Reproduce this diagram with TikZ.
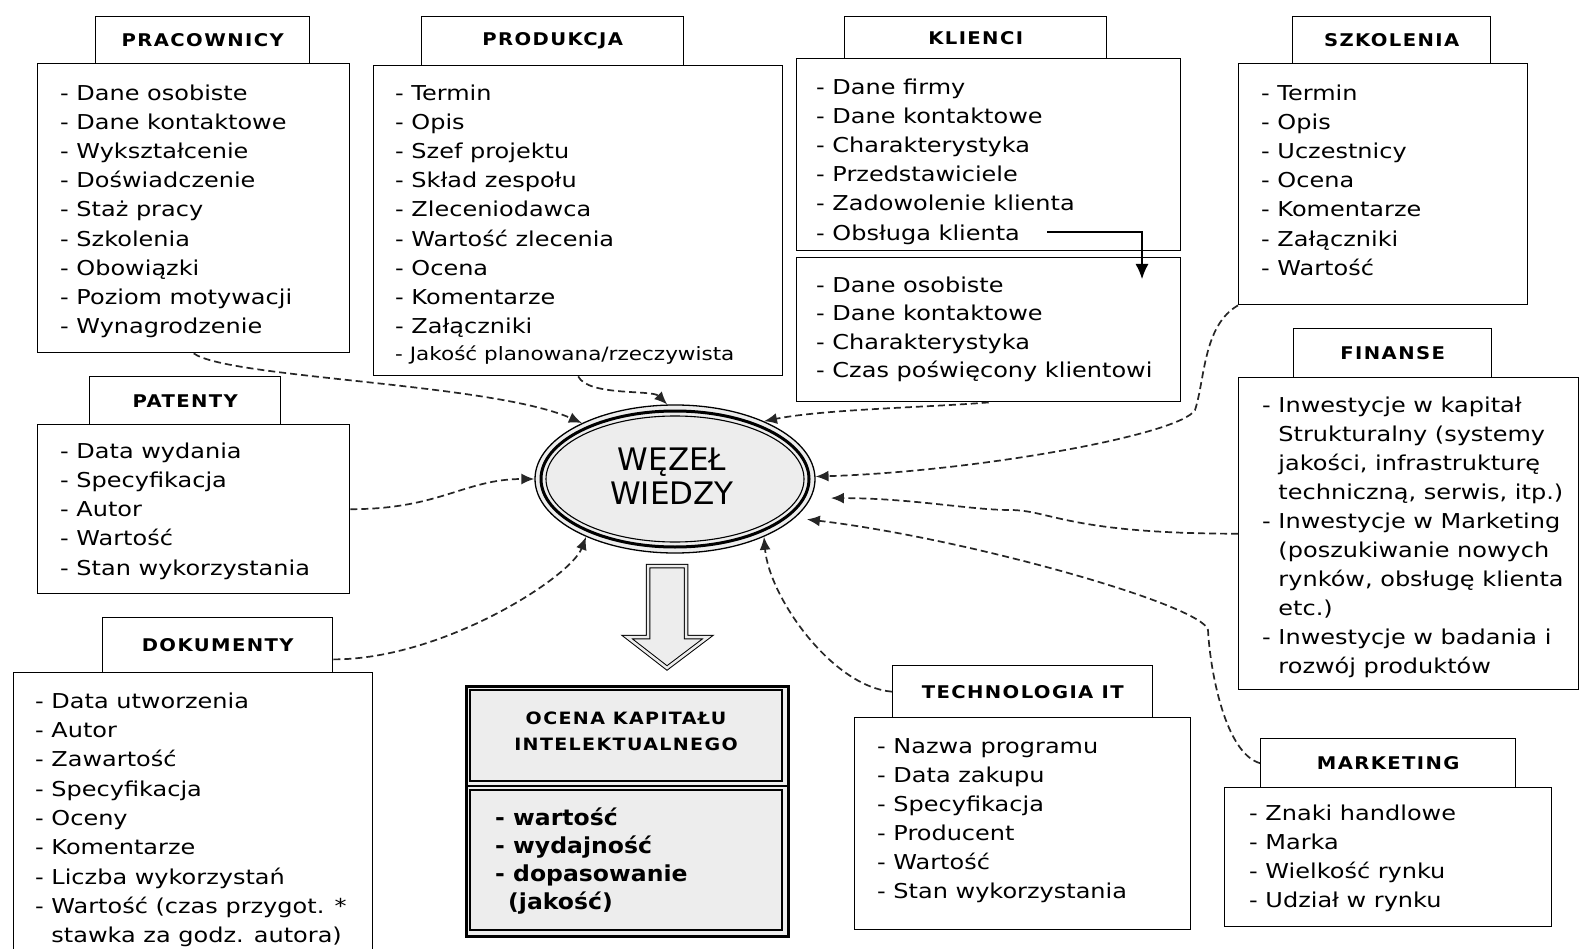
\documentclass[tikz,border=0pt]{standalone}
\usepackage{fontspec}
\usetikzlibrary{shapes.geometric,arrows.meta,calc}
\newfontfamily\bodyf{DejaVu Sans}[FakeStretch=1.17]
\newfontfamily\ttlf{DejaVu Sans Bold}[FakeStretch=1.12,LetterSpace=8]
\newfontfamily\ocf{DejaVu Sans Bold}[FakeStretch=1.07]
\newfontfamily\wezf{DejaVu Sans}
\newcommand{\lnstrut}{\rule{0pt}{22pt}}
\newcommand{\tstrut}{\rule{0pt}{16pt}}
\newcommand{\ind}{\phantom{-\ }}
\begin{document}
\begin{tikzpicture}[x=1pt,y=-1pt,
  box/.style={draw=black, line width=1.4pt, fill=white, inner sep=0pt, anchor=north west},
  ttl/.style={box, font=\ttlf\fontsize{17.5}{20}\selectfont},
  lst/.style={anchor=north west, inner sep=0pt, align=left, font=\bodyf\fontsize{20.5}{29.2}\selectfont},
  conn/.style={draw=black!85, line width=1.7pt, dash pattern=on 7pt off 4pt, -{Latex[length=13pt,width=11pt]}},
]
\fill[white] (0,0) rectangle (1579,949);
\useasboundingbox (0,0) rectangle (1579,949);

% PRACOWNICY
\node[box, minimum width=312, minimum height=289] (pracB) at (37,63) {};
\node[ttl, minimum width=214, minimum height=47] (pracT) at (95,16) {PRACOWNICY};
\node[lst] (pracL) at (60,78) {\lnstrut- Dane osobiste\\- Dane kontaktowe\\- Wykształcenie\\- Doświadczenie\\- Staż pracy\\- Szkolenia\\- Obowiązki\\- Poziom motywacji\\- Wynagrodzenie};

% PRODUKCJA
\node[box, minimum width=409, minimum height=310] (prodB) at (373,65) {};
\node[ttl, minimum width=262, minimum height=49] (prodT) at (421,16) {PRODUKCJA};
\node[lst] (prodL) at (395,78) {\lnstrut- Termin\\- Opis\\- Szef projektu\\- Skład zespołu\\- Zleceniodawca\\- Wartość zlecenia\\- Ocena\\- Komentarze\\- Załączniki};
\node[anchor=base west, inner sep=0pt, font=\bodyf\fontsize{18.4}{20}\selectfont] (prodX) at (395,360) {- Jakość planowana/rzeczywista};

% KLIENCI
\node[box, minimum width=384, minimum height=192] (klB1) at (796,58) {};
\node[ttl, minimum width=262, minimum height=42] (klT) at (844,16) {KLIENCI};
\node[lst] (klL1) at (816,72) {\lnstrut- Dane firmy\\- Dane kontaktowe\\- Charakterystyka\\- Przedstawiciele\\- Zadowolenie klienta\\- Obsługa klienta};
\node[box, minimum width=384, minimum height=144] (klB2) at (796,257) {};
\node[lst, font=\bodyf\fontsize{20.5}{28.5}\selectfont] (klL2) at (816,270) {\lnstrut- Dane osobiste\\- Dane kontaktowe\\- Charakterystyka\\- Czas poświęcony klientowi};
\coordinate (obsA) at (1047,232);
\coordinate (obsB) at (1142,279);
\draw[line width=1.2pt, -{Latex[length=15pt,width=13pt]}] (obsA) -| (obsB);

% SZKOLENIA
\node[box, minimum width=289, minimum height=241] (szkB) at (1238,63) {};
\node[ttl, minimum width=198, minimum height=47] (szkT) at (1292,16) {SZKOLENIA};
\node[lst] (szkL) at (1261,78) {\lnstrut- Termin\\- Opis\\- Uczestnicy\\- Ocena\\- Komentarze\\- Załączniki\\- Wartość};

% FINANSE
\node[box, minimum width=339.5, minimum height=312] (finB) at (1238,377) {};
\node[ttl, minimum width=198, minimum height=49] (finT) at (1293,328) {FINANSE};
\node[lst, font=\bodyf\fontsize{20.5}{29}\selectfont] (finL) at (1262,390) {\lnstrut- Inwestycje w kapitał\\\ind Strukturalny (systemy\\\ind jakości, infrastrukturę\\\ind techniczną, serwis, itp.)\\- Inwestycje w Marketing\\\ind (poszukiwanie nowych\\\ind rynków, obsługę klienta\\\ind etc.)\\- Inwestycje w badania i\\\ind rozwój produktów};

% PATENTY
\node[box, minimum width=312, minimum height=169] (patB) at (37,424) {};
\node[ttl, minimum width=191, minimum height=48] (patT) at (89,376) {PATENTY};
\node[lst] (patL) at (60,436) {\lnstrut- Data wydania\\- Specyfikacja\\- Autor\\- Wartość\\- Stan wykorzystania};

% DOKUMENTY
\node[box, minimum width=359, minimum height=290] (dokB) at (13,672) {};
\node[ttl, minimum width=230, minimum height=55] (dokT) at (102,617) {DOKUMENTY};
\node[lst, font=\bodyf\fontsize{20.5}{29.3}\selectfont] (dokL) at (35,686) {\lnstrut- Data utworzenia\\- Autor\\- Zawartość\\- Specyfikacja\\- Oceny\\- Komentarze\\- Liczba wykorzystań\\- Wartość (czas przygot. *\\\ind stawka za godz. autora)};

% TECHNOLOGIA IT
\node[box, minimum width=336, minimum height=212] (techB) at (854,717) {};
\node[ttl, minimum width=260, minimum height=52] (techT) at (892,665) {TECHNOLOGIA IT};
\node[lst, font=\bodyf\fontsize{20.5}{29}\selectfont] (techL) at (877,731) {\lnstrut- Nazwa programu\\- Data zakupu\\- Specyfikacja\\- Producent\\- Wartość\\- Stan wykorzystania};

% MARKETING
\node[box, minimum width=327, minimum height=139] (markB) at (1224,787) {};
\node[ttl, minimum width=255, minimum height=49] (markT) at (1260,738) {MARKETING};
\node[lst, font=\bodyf\fontsize{20.5}{29}\selectfont] (markL) at (1249,798) {\lnstrut- Znaki handlowe\\- Marka\\- Wielkość rynku\\- Udział w rynku};

% central node
\node[ellipse, draw=black, line width=1.3pt, fill=black!7, minimum width=280, minimum height=148, inner sep=0pt] (wez) at (675,479) {};
\draw[line width=3pt] (wez.center) ellipse [x radius=134, y radius=68];
\draw[line width=1.1pt] (wez.center) ellipse [x radius=129, y radius=63];
\node[align=center, inner sep=0pt, font=\wezf\fontsize{31}{34}\selectfont] (wezL) at (672,476) {WĘZEŁ\\WIEDZY};

% block arrow
\draw[line width=1pt, double=black!7, double distance=2.5pt, fill=black!7, line join=miter]
  (648,566) -- (686,566) -- (686,637) -- (708,637) -- (667,668) -- (627,637) -- (648,637) -- cycle;

% OCENA box
\node[box, fill=black!7, line width=3pt, minimum width=322, minimum height=250] (oc) at (465,685) {};
\draw[line width=1.1pt] (470,690) rectangle (782,781);
\draw[line width=2.5pt] (465,786) -- (787,786);
\draw[line width=1.1pt] (470,790) rectangle (782,930);
\node[anchor=north, align=center, inner sep=0pt, font=\ttlf\fontsize{17}{26}\selectfont] (ocT) at (626,708) {\tstrut OCENA KAPITAŁU\\INTELEKTUALNEGO};
\node[anchor=north west, align=left, inner sep=0pt, font=\ocf\fontsize{22}{28}\selectfont] (ocL) at (495,805) {\rule{0pt}{20pt}- wartość\\- wydajność\\- dopasowanie\\\hspace*{13pt}(jakość)};

% connectors
\coordinate (dokC) at ($(dokT.south east)+(0,-14)$);
\coordinate (szkM) at (1195,410);
\coordinate (finM) at (1010,510);
\coordinate (markM) at (1208,630);
\draw[conn] (pracB.south) .. controls +(35,25) and +(-90,-40) .. (wez.149);
\draw[conn] (prodB.south) .. controls +(10,20) and +(-15,-15) .. (wez.96);
\draw[conn] (klB2.south) .. controls +(-60,5) and +(60,-12) .. (wez.33);
\draw[conn] (szkB.south west) .. controls +(-35,20) and +(10,-30) .. (szkM) .. controls +(-15,25) and +(160,-5) .. (wez.1);
\draw[conn, shorten >=20pt] (finB.west) .. controls +(-170,0) and +(40,0) .. (finM) .. controls +(-40,0) and +(100,0) .. (wez.-8);
\draw[conn, shorten >=12pt] (markT.west) .. controls +(-35,-10) and +(2,40) .. (markM) .. controls +(-5,-25) and +(170,20) .. (wez.-18);
\draw[conn] (techT.west) .. controls +(-60,-5) and +(5,60) .. (wez.-33);
\draw[conn] (patB.east) .. controls +(90,0) and +(-70,0) .. (wez.180);
\draw[conn] (dokC) .. controls +(110,0) and +(-15,40) .. (wez.213);
\end{tikzpicture}
\end{document}
